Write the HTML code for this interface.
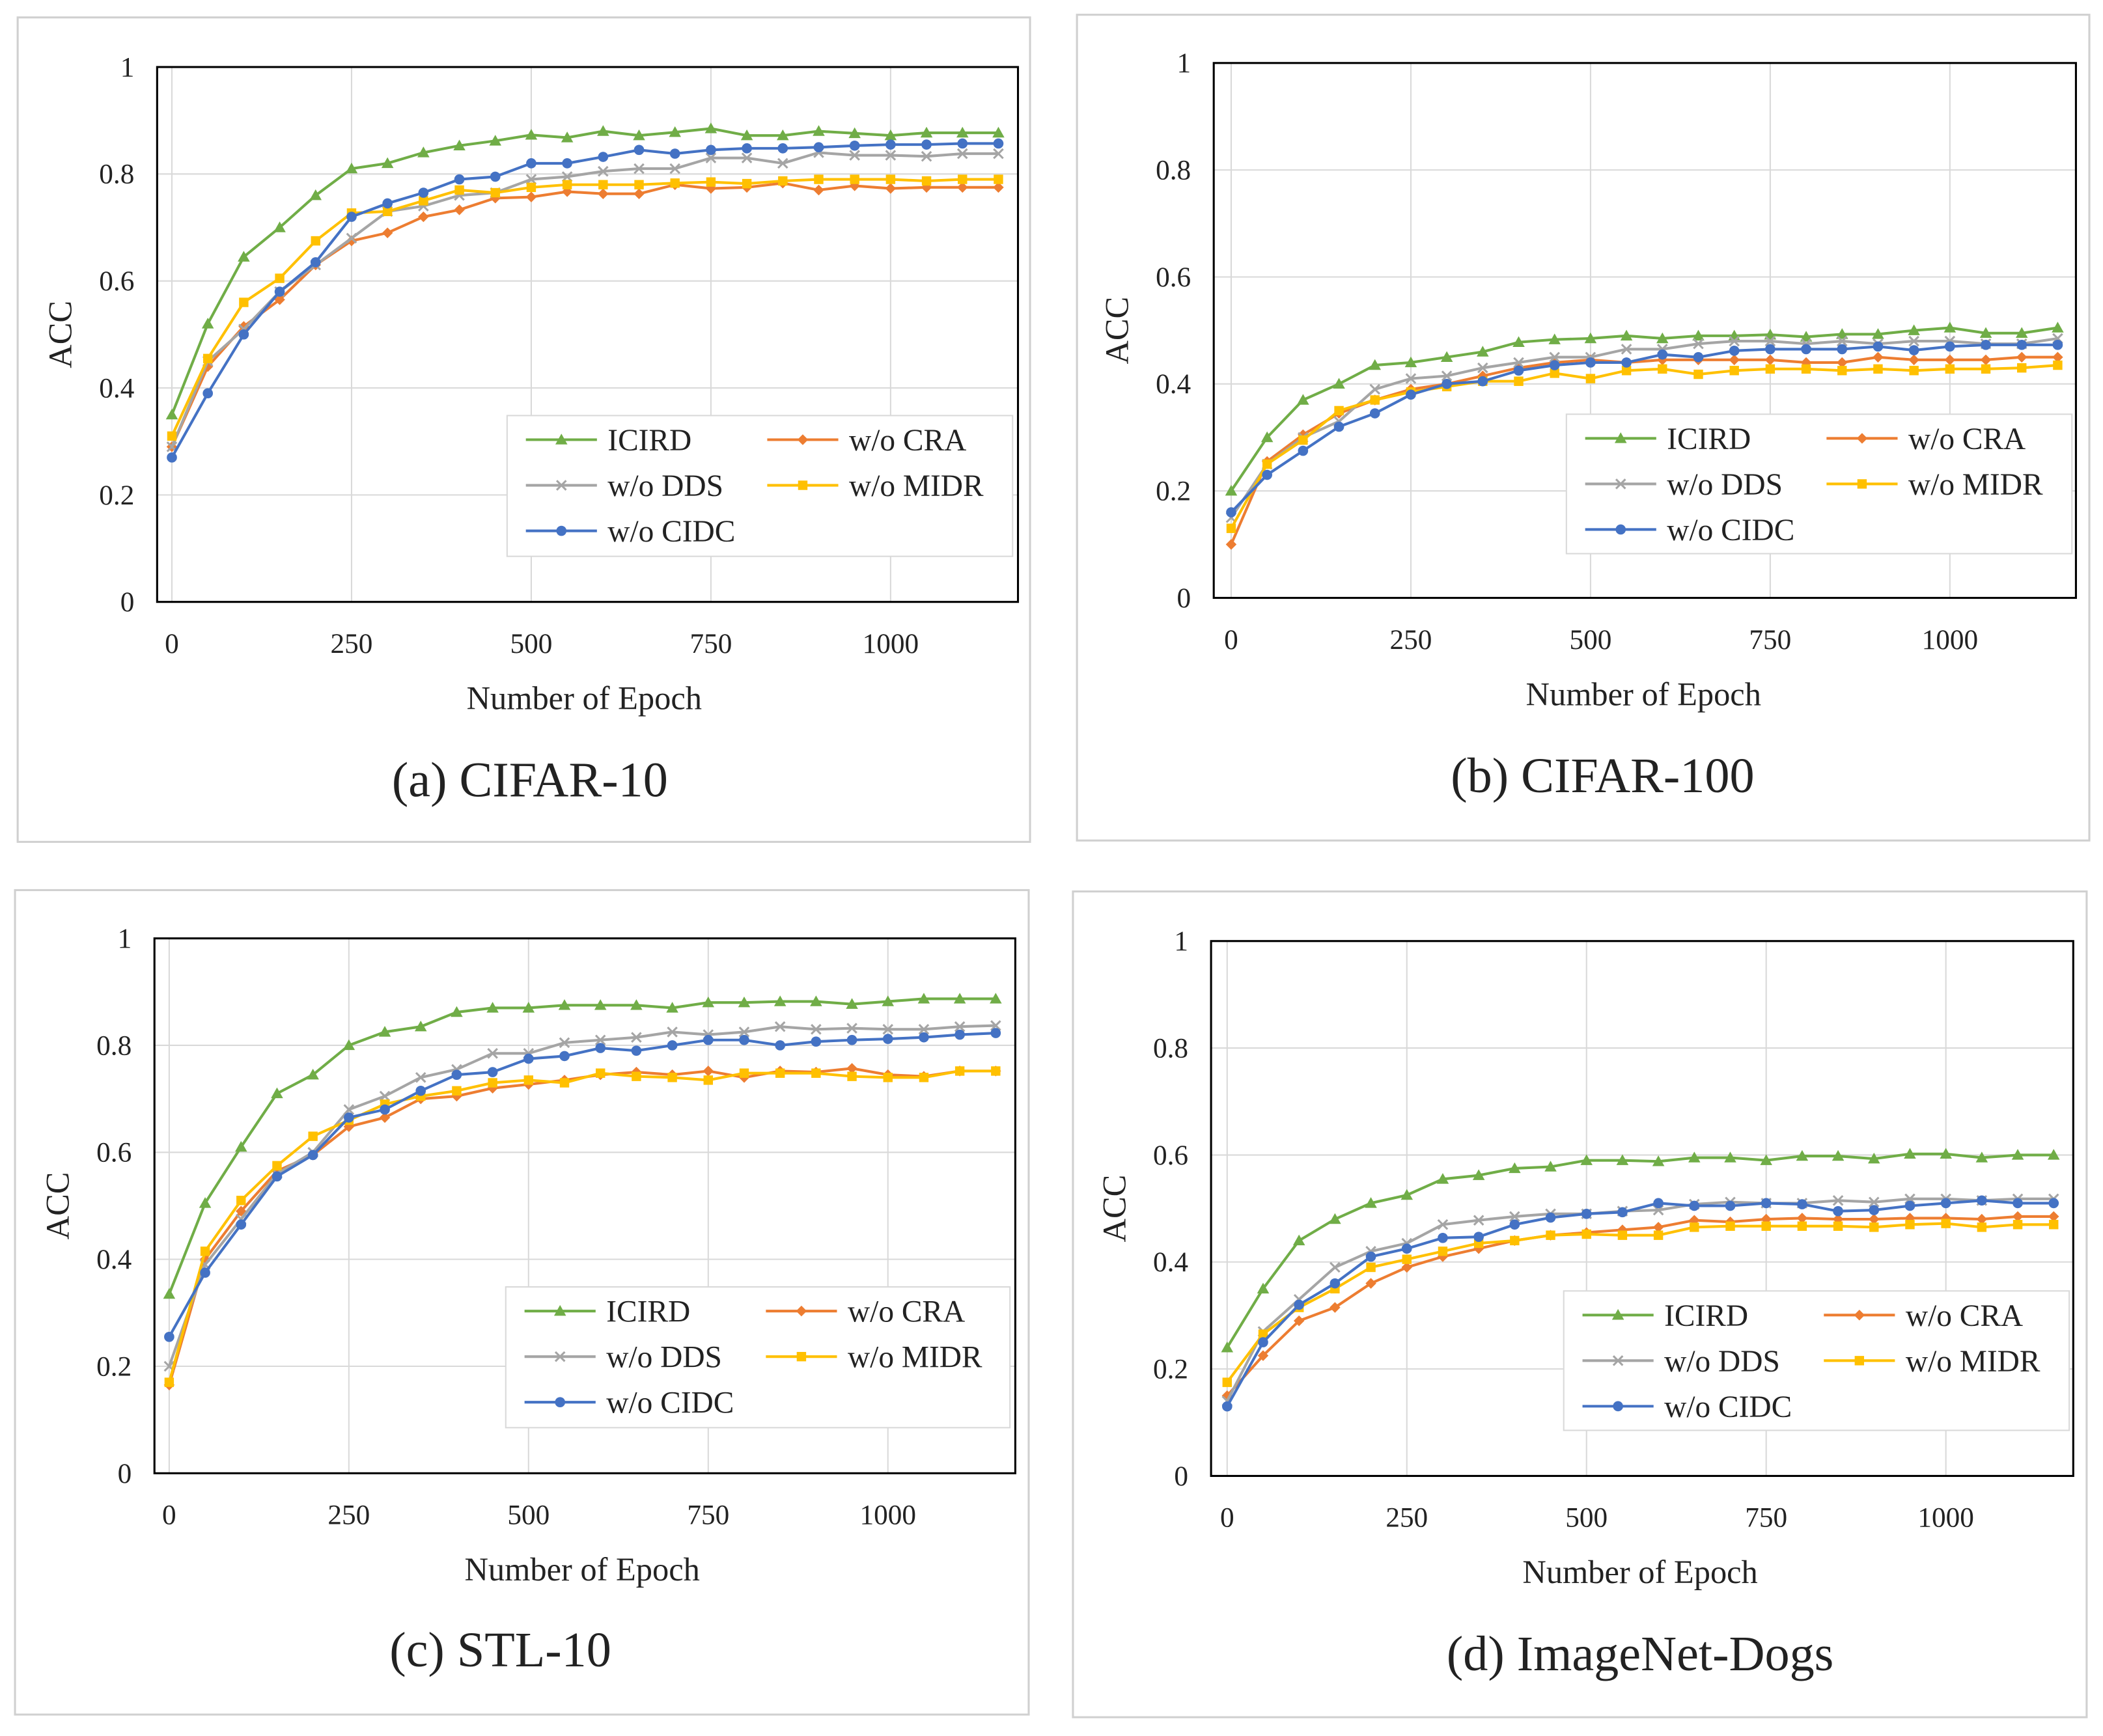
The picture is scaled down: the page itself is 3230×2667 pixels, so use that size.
<!DOCTYPE html>
<html><head><meta charset="utf-8">
<style>
html,body{margin:0;padding:0;background:#fff;}
svg{display:block;}
text{font-family:"Liberation Serif",serif;fill:#222;}
</style></head>
<body>
<svg id="fig" width="3230" height="2667" viewBox="0 0 1568 1295" xmlns="http://www.w3.org/2000/svg"></svg>
<script>
const epochs = [0,50,100,150,200,250,300,350,400,450,500,550,600,650,700,750,800,850,900,950,1000,1050,1100,1150];
const xTicks = [0,250,500,750,1000];
const yTicks = [0,0.2,0.4,0.6,0.8,1];
const yTickLabels = ["0","0.2","0.4","0.6","0.8","1"];
const seriesNames = ["ICIRD","w/o CRA","w/o DDS","w/o MIDR","w/o CIDC"];

const a_ICIRD=[.35,.52,.645,.70,.76,.81,.82,.84,.853,.862,.873,.868,.88,.872,.878,.885,.872,.872,.88,.876,.872,.877,.877,.877];
const a_CRA=[.29,.44,.515,.565,.63,.675,.69,.72,.733,.755,.757,.767,.763,.763,.78,.773,.775,.783,.77,.778,.773,.775,.775,.775];
const a_DDS=[.29,.45,.51,.58,.63,.68,.73,.74,.76,.765,.79,.795,.805,.81,.81,.83,.83,.82,.84,.835,.835,.833,.838,.838];
const a_MIDR=[.31,.455,.56,.605,.675,.727,.73,.75,.77,.765,.775,.78,.78,.78,.783,.785,.782,.787,.79,.79,.79,.787,.79,.79];
const a_CIDC=[.27,.39,.50,.58,.635,.72,.745,.765,.79,.795,.82,.82,.832,.845,.838,.845,.848,.848,.85,.853,.855,.855,.857,.857];

const b_ICIRD=[.20,.30,.37,.40,.435,.44,.45,.46,.478,.483,.485,.49,.485,.49,.49,.492,.488,.493,.493,.50,.505,.495,.495,.505];
const b_CRA=[.10,.255,.305,.345,.37,.39,.40,.415,.43,.44,.445,.44,.445,.445,.445,.445,.44,.44,.45,.445,.445,.445,.45,.45];
const b_DDS=[.15,.25,.30,.33,.39,.41,.415,.43,.44,.45,.45,.465,.465,.475,.48,.48,.475,.48,.475,.48,.48,.475,.475,.485];
const b_MIDR=[.13,.25,.295,.35,.37,.385,.395,.405,.405,.42,.41,.425,.428,.418,.425,.428,.428,.425,.428,.425,.428,.428,.43,.435];
const b_CIDC=[.16,.23,.275,.32,.345,.38,.40,.405,.425,.435,.44,.44,.455,.45,.462,.465,.465,.465,.47,.463,.47,.473,.473,.473];

const c_ICIRD=[.335,.505,.61,.71,.745,.80,.825,.835,.862,.87,.87,.875,.875,.875,.87,.88,.88,.882,.882,.877,.882,.887,.887,.887];
const c_CRA=[.165,.40,.49,.565,.595,.648,.665,.70,.705,.72,.727,.735,.745,.75,.745,.752,.74,.752,.75,.757,.745,.742,.752,.752];
const c_DDS=[.20,.39,.475,.56,.60,.68,.705,.74,.755,.785,.785,.805,.81,.815,.825,.82,.825,.835,.83,.832,.83,.83,.835,.837];
const c_MIDR=[.17,.415,.51,.575,.63,.66,.69,.705,.715,.73,.735,.73,.748,.742,.74,.735,.748,.748,.748,.742,.74,.74,.752,.752];
const c_CIDC=[.255,.375,.465,.555,.595,.665,.68,.715,.745,.75,.775,.78,.795,.79,.80,.81,.81,.80,.807,.81,.812,.815,.82,.823];

const d_ICIRD=[.24,.35,.44,.48,.51,.525,.555,.562,.575,.578,.59,.59,.588,.595,.595,.59,.598,.598,.593,.602,.602,.595,.6,.6];
const d_CRA=[.15,.225,.29,.315,.36,.39,.41,.425,.44,.45,.455,.46,.465,.478,.475,.48,.482,.48,.48,.482,.482,.48,.485,.485];
const d_DDS=[.14,.27,.33,.39,.42,.435,.47,.478,.485,.49,.49,.495,.497,.508,.512,.51,.51,.515,.512,.518,.518,.515,.518,.518];
const d_MIDR=[.175,.265,.315,.35,.39,.405,.42,.435,.44,.45,.452,.45,.45,.465,.467,.467,.467,.467,.465,.47,.472,.465,.47,.47];
const d_CIDC=[.13,.25,.32,.36,.41,.425,.445,.447,.47,.483,.49,.493,.51,.505,.505,.51,.508,.495,.497,.505,.51,.515,.51,.51];

const colors={"ICIRD":"#70ad47","w/o CRA":"#ed7d31","w/o DDS":"#a5a5a5","w/o MIDR":"#ffc000","w/o CIDC":"#4472c4"};
const markers={"ICIRD":"tri","w/o CRA":"dia","w/o DDS":"x","w/o MIDR":"sq","w/o CIDC":"circ"};

const NS="http://www.w3.org/2000/svg";
const svg=document.getElementById('fig');
function el(tag,attrs,parent){const e=document.createElementNS(NS,tag);for(const k in attrs)e.setAttribute(k,attrs[k]);(parent||svg).appendChild(e);return e;}

function marker(g,type,x,y,c){
  let m;
  if(type==='tri') m=el('polygon',{points:`${x},${y-4.5} ${x-4.5},${y+3.5} ${x+4.5},${y+3.5}`,fill:c},g);
  else if(type==='dia') m=el('polygon',{points:`${x},${y-4} ${x+4},${y} ${x},${y+4} ${x-4},${y}`,fill:c},g);
  else if(type==='sq') m=el('rect',{x:x-3.5,y:y-3.5,width:7,height:7,fill:c},g);
  else if(type==='circ') m=el('circle',{cx:x,cy:y,r:3.8,fill:c},g);
  else m=el('path',{d:`M${x-3.5},${y-3.5}L${x+3.5},${y+3.5}M${x-3.5},${y+3.5}L${x+3.5},${y-3.5}`,stroke:c,'stroke-width':1.5},g);
  return m;
}

const panels=[
 {id:'a',box:[13,13,755,615],plot:[117,50,642,399],x0:128,x1000:664,legend:[378,310,377,105],cap:"(a) CIFAR-10",capXY:[395,594],data:[a_ICIRD,a_CRA,a_DDS,a_MIDR,a_CIDC]},
 {id:'b',box:[803,11,755,616],plot:[905,47,643,399],x0:918,x1000:1454,legend:[1168,309,377,104],cap:"(b) CIFAR-100",capXY:[1195,591],data:[b_ICIRD,b_CRA,b_DDS,b_MIDR,b_CIDC]},
 {id:'c',box:[11,664,756,615],plot:[115,700,642,399],x0:126,x1000:662,legend:[377,960,376,105],cap:"(c) STL-10",capXY:[373,1243],data:[c_ICIRD,c_CRA,c_DDS,c_MIDR,c_CIDC]},
 {id:'d',box:[800,665,756,616],plot:[903,702,643,399],x0:915,x1000:1451,legend:[1166,963,377,104],cap:"(d) ImageNet-Dogs",capXY:[1223,1246],data:[d_ICIRD,d_CRA,d_DDS,d_MIDR,d_CIDC]}
];

panels.forEach(p=>{
  const g=el('g',{});
  
  
  const [bx,by,bw,bh]=p.box;
  el('rect',{x:bx,y:by,width:bw,height:bh,fill:'#fff',stroke:'#d0d0d0','stroke-width':1.5},g);
  const [px,py,pw,ph]=p.plot;
  const xs=e=>p.x0+(p.x1000-p.x0)*e/1000;
  const ys=v=>py+ph-v*ph;
  const grid=el('g',{},g);
  
  
  yTicks.forEach(t=>el('line',{x1:px,x2:px+pw,y1:ys(t),y2:ys(t),stroke:'#d9d9d9','stroke-width':1},grid));
  xTicks.forEach(t=>el('line',{x1:xs(t),x2:xs(t),y1:py,y2:py+ph,stroke:'#d9d9d9','stroke-width':1},grid));
  yTicks.forEach((t,i)=>{const tx=el('text',{x:px-17,y:ys(t)+7,'text-anchor':'end','font-size':21},g);tx.textContent=yTickLabels[i];
    
    });
  xTicks.forEach(t=>{const tx=el('text',{x:xs(t),y:py+ph+38,'text-anchor':'middle','font-size':21},g);tx.textContent=String(t);
    
    });
  p.data.forEach((vals,si)=>{
    const name=seriesNames[si],c=colors[name];
    const sg=el('g',{},g);
    
    
    const pts=vals.map((v,i)=>`${xs(epochs[i])},${ys(v)}`).join(' ');
    el('polyline',{points:pts,fill:'none',stroke:c,'stroke-width':2},sg);
    vals.forEach((v,i)=>{const m=marker(sg,markers[name],xs(epochs[i]),ys(v),c);
      
      });
  });
  el('rect',{x:px,y:py,width:pw,height:ph,fill:'none',stroke:'#000','stroke-width':1.5},g);
  const yt=el('text',{x:0,y:0,'text-anchor':'middle','font-size':24.5,transform:`translate(${px-64},${py+ph/2}) rotate(-90)`},g);
  yt.textContent='ACC';
  
  
  const xt=el('text',{x:(bx+bw/2)+45,y:py+ph+80,'text-anchor':'middle','font-size':24.5},g);
  xt.textContent='Number of Epoch';
  
  
  const [lx,ly,lw,lh]=p.legend;
  const lg=el('g',{},g);
  
  
  el('rect',{x:lx,y:ly,width:lw,height:lh,fill:'#fff',stroke:'#d9d9d9','stroke-width':1},lg);
  const pos=[[0,0],[1,0],[0,1],[1,1],[0,2]];
  seriesNames.forEach((name,i)=>{
    const [col,row]=pos[i];
    const ex=lx+14+col*180, ey=ly+18+row*34;
    const eg=el('g',{},lg);
    
    
    el('line',{x1:ex,x2:ex+53,y1:ey,y2:ey,stroke:colors[name],'stroke-width':2},eg);
    marker(eg,markers[name],ex+26.5,ey,colors[name]);
    const t=el('text',{x:ex+61,y:ey+8,'font-size':23},eg);t.textContent=name;
  });
  const cap=el('text',{x:p.capXY[0],y:p.capXY[1],'text-anchor':'middle','font-size':37},g);
  cap.textContent=p.cap;
  
  
});
</script>
</body></html>
